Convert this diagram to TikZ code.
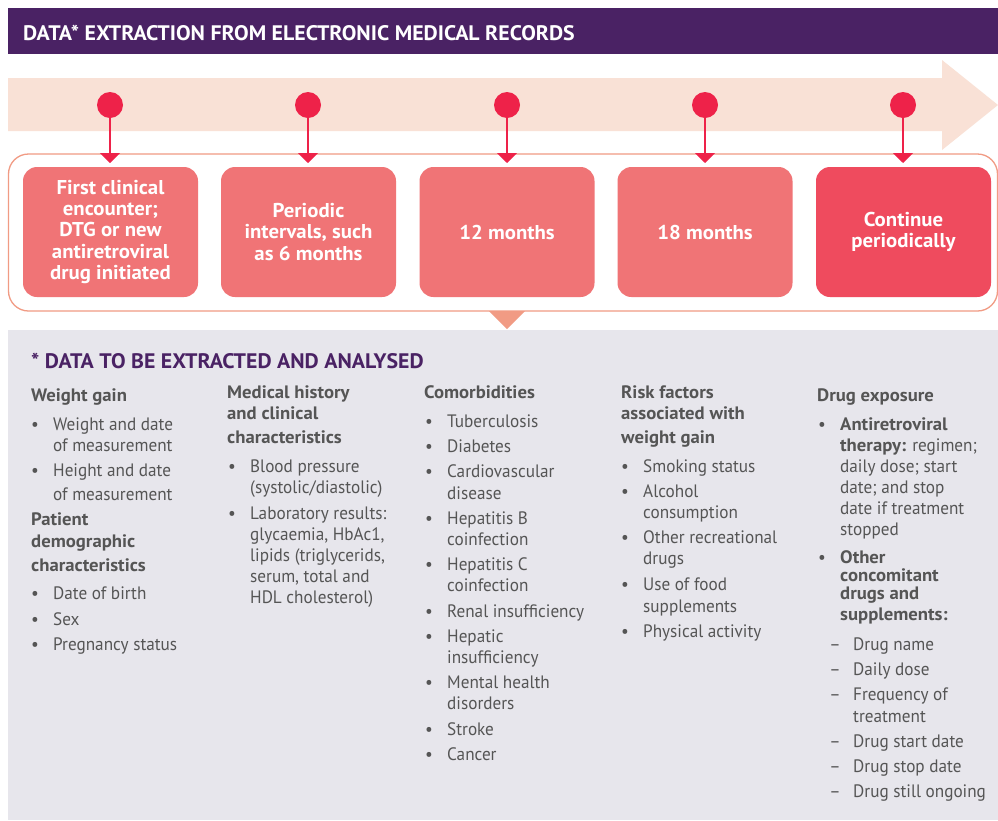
\documentclass[tikz,border=0pt]{standalone}
\usepackage{fontspec}
\setmainfont{PT Sans}[FakeStretch=0.955,BoldFeatures={FakeStretch=1.04}]
\usetikzlibrary{arrows.meta}
\definecolor{hdr}{HTML}{4A2264}
\definecolor{band}{HTML}{F9E1D6}
\definecolor{dot}{HTML}{EE2249}
\definecolor{framec}{HTML}{F19B84}
\definecolor{boxc}{HTML}{F07476}
\definecolor{boxd}{HTML}{EF4B5E}
\definecolor{panel}{HTML}{E7E6EC}
\definecolor{txt}{HTML}{555555}
\newcounter{lnc}
\newcommand\Lh[3]{\stepcounter{lnc}\node[hd] (t\arabic{lnc}) at (#1,#2) {#3};}
\newcommand\Lt[3]{\stepcounter{lnc}\node[it] (t\arabic{lnc}) at (#1,#2) {#3};}
\newcommand\Lb[3]{\stepcounter{lnc}\node[it,anchor=base] (u\arabic{lnc}) at (#1-18,#2) {•};\node[it] (t\arabic{lnc}) at (#1,#2) {#3};}
\newcommand\Ld[3]{\stepcounter{lnc}\node[it,anchor=base] (u\arabic{lnc}) at (#1-18,#2) {–};\node[it] (t\arabic{lnc}) at (#1,#2) {#3};}
\begin{document}
\begin{tikzpicture}[x=1pt,y=-1pt,
  hd/.style={anchor=base west,inner sep=0pt,font=\bfseries\fontsize{18}{20}\selectfont,text=txt},
  it/.style={anchor=base west,inner sep=0pt,font=\fontsize{18}{20}\selectfont,text=txt},
  tbox/.style={rounded corners=14pt,minimum width=175pt,minimum height=130pt,inner sep=0pt,align=center,text=white,font=\bfseries\fontsize{20}{21.3}\selectfont},
  dotc/.style={circle,fill=dot,minimum size=26pt,inner sep=0pt},
  conn/.style={draw=dot,line width=1.5pt,-{Triangle[width=20pt,length=10pt]}}
]
\useasboundingbox (0,0) rectangle (998,820);
\fill[white] (0,0) rectangle (998,820);
% header
\fill[hdr] (8,8) rectangle (998,54);
\node[anchor=base west,inner sep=0pt,text=white,font=\bfseries\fontsize{21}{24}\selectfont] (hdrtext) at (23,40) {DATA* EXTRACTION FROM ELECTRONIC MEDICAL RECORDS};
% timeline band
\fill[band] (8,78) -- (942,78) -- (942,60) -- (998,105) -- (942,150) -- (942,131) -- (8,131) -- cycle;
% frame
\draw[framec,line width=1.3pt,rounded corners=20pt] (8.5,154) rectangle (997.5,311);
\fill[framec] (489,311) -- (525,311) -- (507,329) -- cycle;
% panel
\fill[panel] (8,330) rectangle (998,820);
% boxes
\node[tbox,fill=boxc] (b1) at (110.5,232) {First clinical\\encounter;\\DTG or new\\antiretroviral\\drug initiated};
\node[tbox,fill=boxc] (b2) at (308.5,232) {Periodic\\intervals, such\\as 6 months};
\node[tbox,fill=boxc] (b3) at (507,232) {12 months};
\node[tbox,fill=boxc] (b4) at (705,232) {18 months};
\node[tbox,fill=boxd] (b5) at (903.5,232) {Continue\\periodically};
% dots and connectors
\foreach \i/\x in {1/110,2/308,3/507,4/705,5/903}{
  \node[dotc] (c\i) at (\x,105) {};
  \coordinate (a\i) at (\x,163);
  \draw[conn] (c\i) -- (a\i);
}
% title
\node[anchor=base west,inner sep=0pt,text=hdr,font=\bfseries\fontsize{21}{24}\selectfont] (ttl) at (31,368) {* DATA TO BE EXTRACTED AND ANALYSED};
% column 1
\Lh{31}{401}{Weight gain}
\Lb{53}{430}{Weight and date}
\Lt{53}{451}{of measurement}
\Lb{53}{476}{Height and date}
\Lt{53}{500}{of measurement}
\Lh{31}{525}{Patient}
\Lh{31}{547}{demographic}
\Lh{31}{571}{characteristics}
\Lb{53}{599}{Date of birth}
\Lb{53}{625}{Sex}
\Lb{53}{650}{Pregnancy status}
% column 2
\Lh{227}{398}{Medical history}
\Lh{227}{419}{and clinical}
\Lh{227}{443}{characteristics}
\Lb{250}{472}{Blood pressure}
\Lt{250}{493}{(systolic/diastolic)}
\Lb{250}{519}{Laboratory results:}
\Lt{250}{540}{glycaemia, HbAc1,}
\Lt{250}{561}{lipids (triglycerids,}
\Lt{250}{582}{serum, total and}
\Lt{250}{603}{HDL cholesterol)}
% column 3
\Lh{424}{398}{Comorbidities}
\Lb{447}{427}{Tuberculosis}
\Lb{447}{452}{Diabetes}
\Lb{447}{477}{Cardiovascular}
\Lt{447}{499}{disease}
\Lb{447}{524}{Hepatitis B}
\Lt{447}{545}{coinfection}
\Lb{447}{570}{Hepatitis C}
\Lt{447}{591}{coinfection}
\Lb{447}{617}{Renal insufficiency}
\Lb{447}{642}{Hepatic}
\Lt{447}{663}{insufficiency}
\Lb{447}{688}{Mental health}
\Lt{447}{709}{disorders}
\Lb{447}{735}{Stroke}
\Lb{447}{760}{Cancer}
% column 4
\Lh{621}{398}{Risk factors}
\Lh{621}{419}{associated with}
\Lh{621}{443}{weight gain}
\Lb{643}{472}{Smoking status}
\Lb{643}{497}{Alcohol}
\Lt{643}{518}{consumption}
\Lb{643}{543}{Other recreational}
\Lt{643}{564}{drugs}
\Lb{643}{590}{Use of food}
\Lt{643}{612}{supplements}
\Lb{643}{637}{Physical activity}
% column 5
\Lh{817}{401}{Drug exposure}
\Lb{840}{430}{\textbf{Antiretroviral}}
\Lt{840}{451}{\textbf{therapy:} regimen;}
\Lt{840}{472}{daily dose; start}
\Lt{840}{493}{date; and stop}
\Lt{840}{514}{date if treatment}
\Lt{840}{535}{stopped}
\Lb{840}{563}{\textbf{Other}}
\Lh{840}{581}{concomitant}
\Lh{840}{599}{drugs and}
\Lh{840}{620}{supplements:}
\Ld{853}{650}{Drug name}
\Ld{853}{675}{Daily dose}
\Ld{853}{700}{Frequency of}
\Lt{853}{722}{treatment}
\Ld{853}{747}{Drug start date}
\Ld{853}{772}{Drug stop date}
\Ld{853}{797}{Drug still ongoing}
\end{tikzpicture}
\end{document}
